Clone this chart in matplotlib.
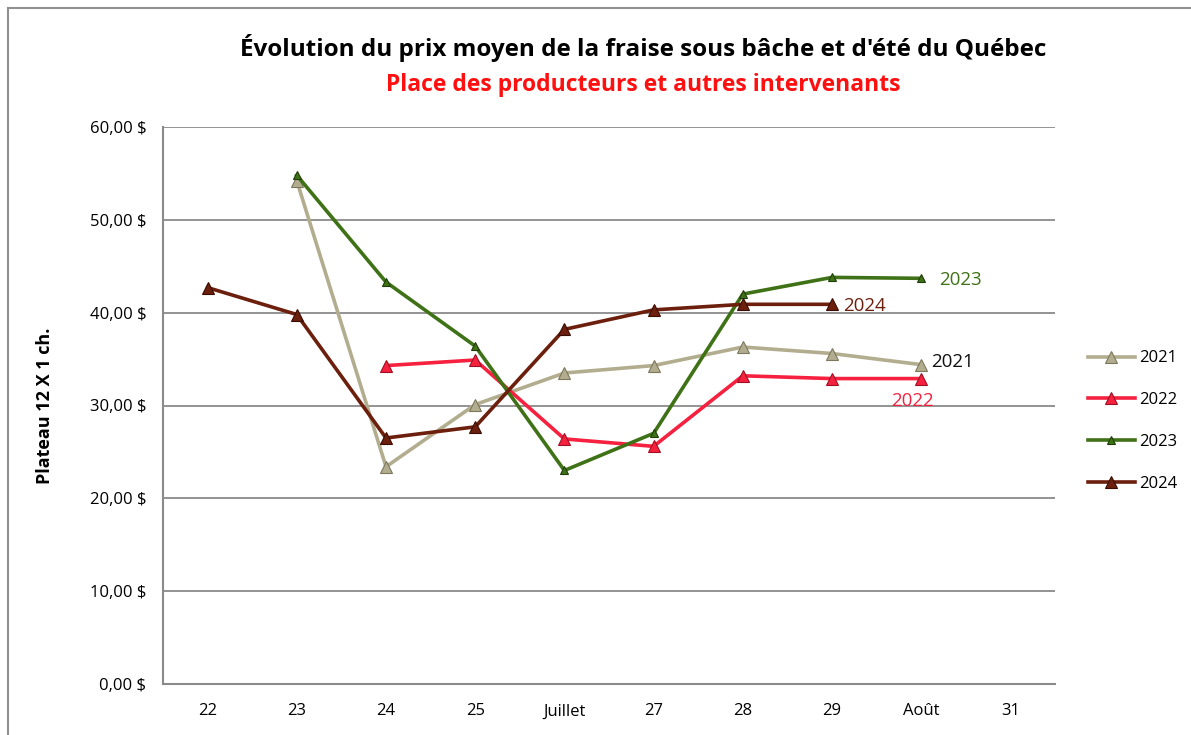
import numpy as np
import matplotlib.pyplot as plt
from matplotlib.ticker import FuncFormatter

plt.rcParams['font.family'] = ['Open Sans', 'DejaVu Sans']

semaines = ['22', '23', '24', '25', 'Juillet', '27', '28', '29', 'Août', '31']
nan = np.nan
prix_2021 = [nan, 54.2, 23.4, 30.1, 33.5, 34.3, 36.3, 35.6, 34.4, nan]
prix_2022 = [nan, nan, 34.3, 34.9, 26.4, 25.6, 33.2, 32.9, 32.9, nan]
prix_2023 = [nan, 54.8, 43.3, 36.4, 23.0, 27.0, 42.0, 43.8, 43.7, nan]
prix_2024 = [42.7, 39.8, 26.5, 27.7, 38.2, 40.3, 40.9, 40.9, nan, nan]

series = [
    ('2021', prix_2021, '#b3ad8f', '#7d775c', 9, '#111111', (7, 2)),
    ('2022', prix_2022, '#f5213f', '#a01025', 9, '#f5213f', (-22, -16)),
    ('2023', prix_2023, '#3f7216', '#1f3d08', 6, '#3f7216', (13, -1)),
    ('2024', prix_2024, '#6b1f0c', '#3a0c04', 8, '#6b1f0c', (8, -1)),
]

fig = plt.figure(figsize=(11.91, 7.35), dpi=100)
ax = fig.add_axes([163/1191, 1 - 684/735, (1055-163)/1191, (684-127)/735])

x = np.arange(len(semaines))
for nom, vals, col, edge, ms, tcol, off in series:
    ax.plot(x, vals, color=col, lw=2.6, marker='^', ms=ms, mfc=col, mec=edge, mew=0.8, label=nom)
    v = np.array(vals)
    last = np.where(~np.isnan(v))[0][-1]
    ax.annotate(nom, (x[last], v[last]), xytext=off, textcoords='offset points',
                color=tcol, fontsize=13.5, va='center', ha='left')

ax.set_xlim(-0.5, len(semaines) - 0.5)
ax.set_ylim(0, 60)
ax.set_yticks(np.arange(0, 61, 10))
ax.yaxis.set_major_formatter(FuncFormatter(lambda v, p: f'{v:.2f}'.replace('.', ',') + ' $'))
ax.set_xticks(x)
ax.set_xticklabels(semaines)
ax.grid(axis='y', color='#8a8a8a', lw=1.3)
ax.set_axisbelow(True)
for s in ['top', 'right']:
    ax.spines[s].set_visible(False)
for s in ['left', 'bottom']:
    ax.spines[s].set_color('#8a8a8a')
    ax.spines[s].set_linewidth(1.5)
ax.tick_params(length=0, labelsize=12, pad=12)
ax.tick_params(axis='x', pad=14)
ax.set_ylabel('Plateau 12 X 1 ch.', fontsize=13, fontweight='bold', labelpad=26)

leg = ax.legend(loc='center left', bbox_to_anchor=(1.02, 0.472), frameon=False,
                fontsize=12, labelspacing=1.55, handlelength=2.8, handletextpad=0.3)

fig.text(0.54, 0.935, "Évolution du prix moyen de la fraise sous bâche et d'été du Québec",
         ha='center', va='center', fontsize=17.5, fontweight='bold')
fig.text(0.54, 0.884, 'Place des producteurs et autres intervenants',
         ha='center', va='center', fontsize=16.5, fontweight='bold', color='#ff1010')

fig.add_artist(plt.Line2D([8/1191, 8/1191], [0, 1 - 8/735], color='#909090', lw=1.5))
fig.add_artist(plt.Line2D([8/1191, 1], [1 - 8/735, 1 - 8/735], color='#909090', lw=1.5))

fig.savefig('out.png', dpi=100)
